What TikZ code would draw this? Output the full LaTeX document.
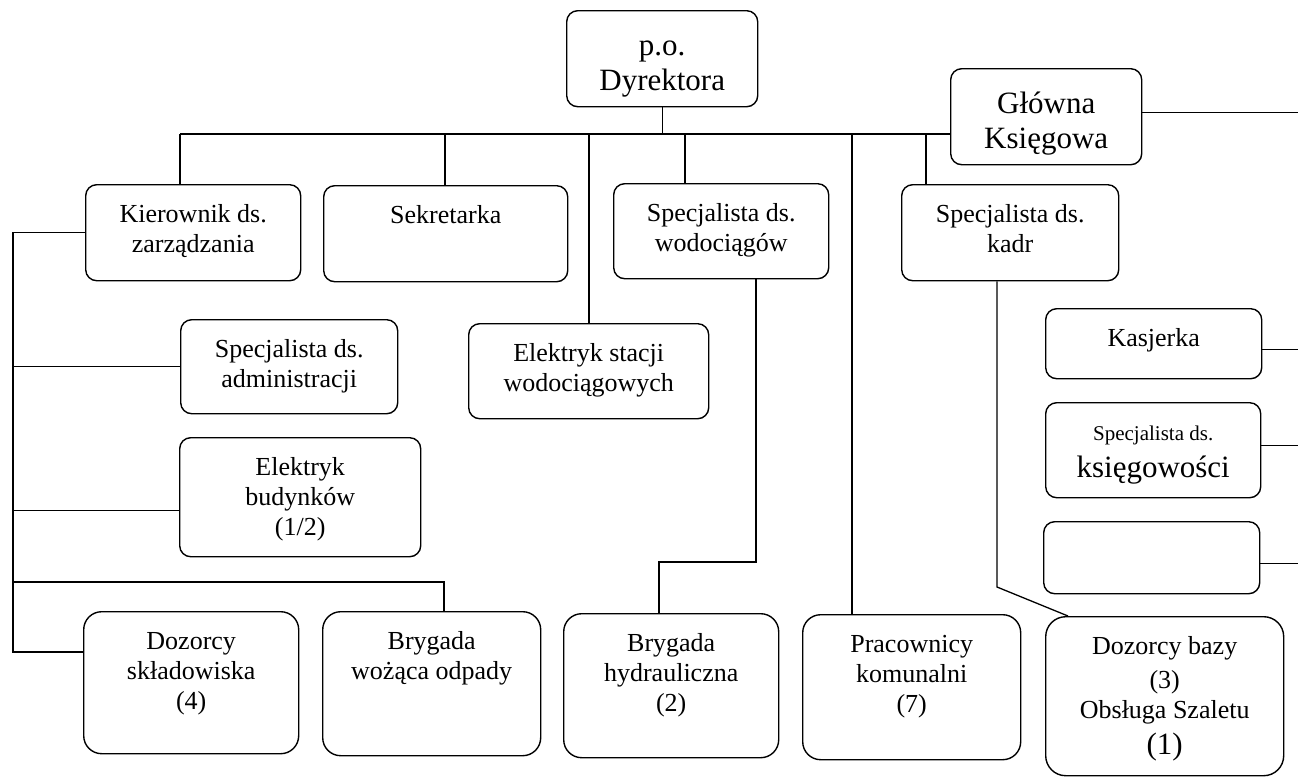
\documentclass[tikz,border=0pt]{standalone}
\usepackage{fontspec}
\setmainfont{Liberation Serif}
\usepackage{tikz}
\usetikzlibrary{positioning, calc}

% text block of a box: fixed size, text from the top
\newcommand{\cell}[3]{\parbox[t][#2pt][t]{#1pt}{\centering\rule{0pt}{1.45em}#3\par}}

\begin{document}
\begin{tikzpicture}[x=1pt, y=-1pt, line width=1.3pt,
    unit/.style={draw, line width=1.4pt, rounded corners=11pt, inner sep=0pt,
                 anchor=north west, font=\fontsize{26}{30}\selectfont},
    big/.style={unit, font=\fontsize{31}{35}\selectfont},
    tall/.style={unit, rounded corners=18pt}]
        \useasboundingbox (0,0) rectangle (1298,777);
        % top
        \node[big] (dyr) at (566,10) {\cell{191}{96}{p.o.\\Dyrektora}};
        \node[big] (glk) at (950,68) {\cell{191}{96}{Główna\\Księgowa}};
        % first row
        \node[unit] (kier) at (85,184) {\cell{215}{96}{Kierownik ds.\\zarządzania}};
        \node[unit] (sekr) at (323,185) {\cell{244}{96}{Sekretarka}};
        \node[unit] (wod) at (613,183) {\cell{215}{95}{Specjalista ds.\\wodociągów}};
        \node[unit] (kadr) at (901,184) {\cell{217}{96}{Specjalista ds.\\kadr}};
        % middle
        \node[unit] (adm) at (180,319) {\cell{217}{94}{Specjalista ds.\\administracji}};
        \node[unit] (els) at (468,323) {\cell{240}{95}{Elektryk stacji\\wodociągowych}};
        \node[unit] (elb) at (179,437) {\cell{241}{119}{Elektryk\\budynków\\(1/2)}};
        \node[unit] (kas) at (1045,308) {\cell{216}{70}{Kasjerka}};
        \node[unit] (ksg) at (1045,402) {\cell{215}{95}{{\fontsize{21}{25}\selectfont Specjalista ds.}\\[7pt]
            {\fontsize{31}{35}\selectfont księgowości}}};
        \node[unit] (pusty) at (1043,521) {\cell{216}{72}{}};
        % bottom row
        \node[tall] (dsk) at (83,611) {\cell{215}{142}{Dozorcy\\składowiska\\(4)}};
        \node[tall] (bwo) at (322,611) {\cell{218}{144}{Brygada\\wożąca odpady}};
        \node[tall] (bhy) at (563,613) {\cell{215}{144}{Brygada\\hydrauliczna\\(2)}};
        \node[tall] (prk) at (802,614) {\cell{218}{145}{Pracownicy\\komunalni\\(7)}};
        \node[tall, rounded corners=20pt] (dzb) at (1045,616) {\cell{238}{159}{Dozorcy bazy\\[4pt](3)\\Obsługa Szaletu\\[6pt]
            {\fontsize{31}{35}\selectfont (1)}}};

        % bus under the director
        \coordinate (b1) at (180,134);
        \coordinate (b2) at (445,134);
        \coordinate (b3) at (589,134);
        \coordinate (b4) at (685,134);
        \coordinate (b5) at (852,134);
        \coordinate (b6) at (926,134);
        \coordinate (edge) at (1298,0);
        \draw (b1) -- (glk.west |- b1);
        \draw (dyr.south) -- (dyr.south |- b1);
        \draw (b1) -- (b1 |- kier.north);
        \draw (b2) -- (b2 |- sekr.north);
        \draw (b3) -- (b3 |- els.north);
        \draw (b4) -- (b4 |- wod.north);
        \draw (b5) -- (b5 |- prk.north);
        \draw (b6) -- (b6 |- kadr.north);

        % accounting, to the right edge
        \draw ([yshift=4pt]glk.east) -- ([yshift=4pt]glk.east -| edge);
        \draw ([yshift=-6pt]kas.east) -- ([yshift=-6pt]kas.east -| edge);
        \draw ([yshift=5pt]ksg.east) -- ([yshift=5pt]ksg.east -| edge);
        \draw ([yshift=-6pt]pusty.east) -- ([yshift=-6pt]pusty.east -| edge);

        % management branch
        \coordinate (ldsk) at (13,652);
        \coordinate (lbw) at (444,582);
        \draw (kier.west) -| (ldsk) -- (ldsk -| dsk.west);
        \draw (adm.west) -- (adm.west -| ldsk);
        \draw ([yshift=-13pt]elb.west) -- ([yshift=-13pt]elb.west -| ldsk);
        \draw (lbw -| ldsk) -- (lbw) -- (lbw |- bwo.north);

        % water supply
        \coordinate (w1) at (756,562);
        \coordinate (w2) at (659,562);
        \draw (w1 |- wod.south) -- (w1) -- (w2) -- (w2 |- bhy.north);

        % personnel
        \coordinate (k1) at (997,587);
        \coordinate (k2) at (1068,616);
        \draw (k1 |- kadr.south) -- (k1) -- (k2);
\end{tikzpicture}
\end{document}
